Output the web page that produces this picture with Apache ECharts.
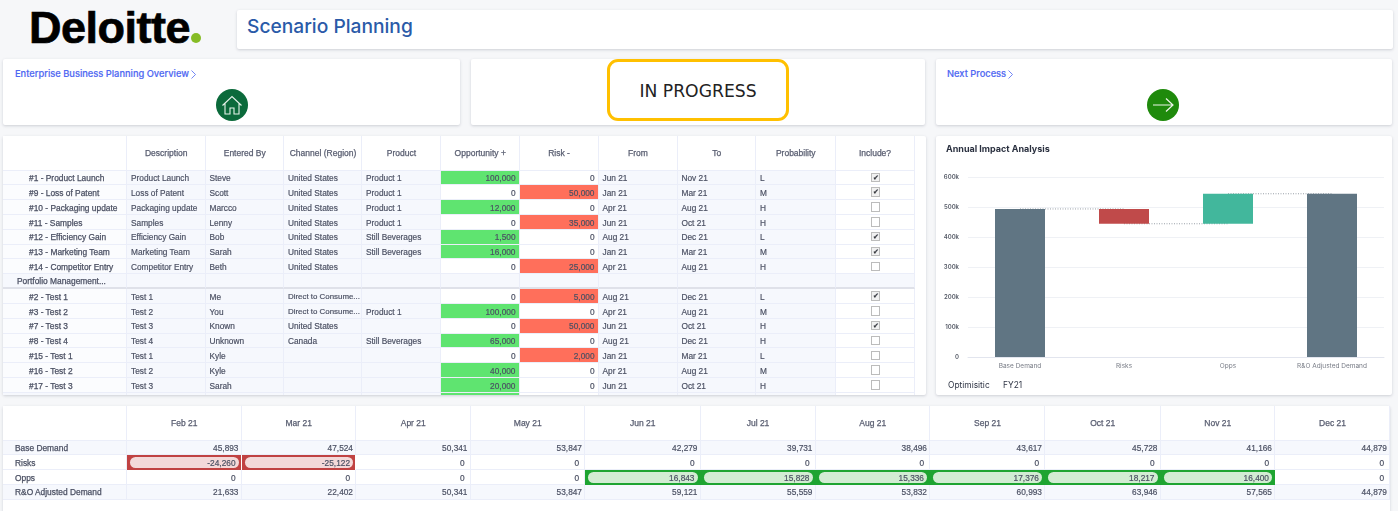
<!DOCTYPE html>
<html>
<head>
<meta charset="utf-8">
<title>Scenario Planning</title>
<script src="https://cdn.jsdelivr.net/npm/echarts@6/dist/echarts.min.js"></script>
<style>
    html, body { margin: 0; padding: 0; width: 1398px; height: 511px; overflow: hidden; background: #f6f7f9; }
    body { position: relative; font-family: "Liberation Sans", Arial, sans-serif; }
    .abs { position: absolute; box-sizing: border-box; white-space: nowrap; overflow: hidden; }
    .panel { position: absolute; box-sizing: border-box; background: #fff; border-radius: 2px; box-shadow: 0 1px 3px rgba(60, 70, 90, 0.22); }
    #tables { position: absolute; left: 0; top: 0; width: 1398px; height: 511px; will-change: transform; }
    .cell { font-size: 8.3px; color: #4b5063; border-right: 1px solid #ebeef9; border-bottom: 1px solid #ebeef9; padding: 1.5px 3px 0 4px; display: flex; align-items: center; -webkit-text-stroke: 0.18px #4b5063; }
    .head { padding-top: 0; font-size: 8.5px; color: #585d70; -webkit-text-stroke: 0.25px #585d70; }
    .rowname { font-size: 8.4px; -webkit-text-stroke: 0.25px #4b5063; }
    .link { position: absolute; font: 500 9.3px Inter, sans-serif; color: #4f68f2; -webkit-text-stroke: 0.15px #4f68f2; }
    .link svg { vertical-align: -1.5px; margin-left: 2px; }
    .pill { position: absolute; left: 3px; right: 2px; top: 2px; bottom: 2px; border-radius: 6px; display: flex; align-items: center; justify-content: flex-end; padding-right: 3px; padding-top: 1px; box-sizing: border-box; }
    .check { width: 9.5px; height: 9.5px; border: 1.3px solid #bcbcbc; background: #fff; box-sizing: border-box; margin: -1.5px 0 0 1px; font-size: 6.5px; line-height: 7px; text-align: center; color: #333; }
</style>
</head>
<body>
<div class="abs" style="left:29px;top:2px;height:50px;font:bold 45px 'Liberation Sans';letter-spacing:-0.5px;color:#000;-webkit-text-stroke:0.7px #000;">Deloitte</div>
<div class="abs" style="left:191px;top:33px;width:10px;height:10px;border-radius:50%;background:#86bc25;"></div>

<div class="panel" style="left:237px;top:10px;width:1156px;height:39px;"></div>
<div class="abs" style="left:247px;top:14px;font:500 19.2px Inter,sans-serif;color:#2a5aa8;">Scenario Planning</div>

<div class="panel" style="left:3px;top:59px;width:457px;height:66px;"></div>
<div class="panel" style="left:471px;top:59px;width:454px;height:66px;"></div>
<div class="panel" style="left:936px;top:59px;width:456px;height:66px;"></div>

<div class="link" style="left:15px;top:68px;">Enterprise Business Planning Overview<svg width="5" height="9" viewBox="0 0 5 9"><path d="M0.5 0.5 L4.5 4.5 L0.5 8.5" fill="none" stroke="#4f68f2" stroke-width="0.8"/></svg></div>
<div class="link" style="left:947px;top:68px;">Next Process<svg width="5" height="9" viewBox="0 0 5 9"><path d="M0.5 0.5 L4.5 4.5 L0.5 8.5" fill="none" stroke="#4f68f2" stroke-width="0.8"/></svg></div>

<svg class="abs" style="left:216px;top:89px;" width="32" height="32" viewBox="0 0 32 32">
    <circle cx="16" cy="16" r="16" fill="#0b6a3b"/>
    <path d="M6.5 16.5 L16 7.5 L25.5 16.5 M9 14.5 V25 H14 V19 H18 V25 H23 V14.5" fill="none" stroke="#e6f2ea" stroke-width="1.1"/>
</svg>
<svg class="abs" style="left:1147px;top:89px;" width="32" height="32" viewBox="0 0 32 32">
    <circle cx="16" cy="16" r="16" fill="#1f8a0c"/>
    <path d="M6 16 H26 M19 9.5 L26 16 L19 22.5" fill="none" stroke="#eef6ea" stroke-width="1.2"/>
</svg>

<div class="abs" style="left:607px;top:59px;width:182px;height:62px;border:3.5px solid #ffc000;border-radius:11px;background:#fff;display:flex;align-items:center;justify-content:center;padding-top:2px;font:17.2px 'DejaVu Sans',sans-serif;color:#222;">IN PROGRESS</div>

<div class="panel" style="left:3px;top:136px;width:923px;height:259px;" id="scenarioPanel"></div>
<div class="panel" style="left:936px;top:136px;width:456px;height:259px;"></div>
<div id="impactChart" class="abs" style="left:936px;top:136px;width:456px;height:259px;"></div>
<div class="panel" style="left:3px;top:406px;width:1387px;height:110px;" id="monthlyPanel"></div>
<div id="tables"></div>

<script>
    // Scenario table
    const scenarioHeaders = ['', 'Description', 'Entered By', 'Channel (Region)', 'Product', 'Opportunity +', 'Risk -', 'From', 'To', 'Probability', 'Include?'];
    const scenarioNames = ['#1 - Product Launch', '#9 - Loss of Patent', '#10 - Packaging update', '#11 - Samples', '#12 - Efficiency Gain', '#13 - Marketing Team', '#14 - Competitor Entry', 'Portfolio Management...', '#2 - Test 1', '#3 - Test 2', '#7 - Test 3', '#8 - Test 4', '#15 - Test 1', '#16 - Test 2', '#17 - Test 3'];
    const scenarioDescriptions = ['Product Launch', 'Loss of Patent', 'Packaging update', 'Samples', 'Efficiency Gain', 'Marketing Team', 'Competitor Entry', '', 'Test 1', 'Test 2', 'Test 3', 'Test 4', 'Test 1', 'Test 2', 'Test 3'];
    const scenarioEnteredBy = ['Steve', 'Scott', 'Marcco', 'Lenny', 'Bob', 'Sarah', 'Beth', '', 'Me', 'You', 'Known', 'Unknown', 'Kyle', 'Kyle', 'Sarah'];
    const scenarioChannels = ['United States', 'United States', 'United States', 'United States', 'United States', 'United States', 'United States', '', 'Direct to Consume...', 'Direct to Consume...', 'United States', 'Canada', '', '', ''];
    const scenarioProducts = ['Product 1', 'Product 1', 'Product 1', 'Product 1', 'Still Beverages', 'Still Beverages', '', '', '', 'Product 1', '', 'Still Beverages', '', '', ''];
    const scenarioOpps = [100000, 0, 12000, 0, 1500, 16000, 0, null, 0, 100000, 0, 65000, 0, 40000, 20000];
    const scenarioRisks = [0, 50000, 0, 35000, 0, 0, 25000, null, 5000, 0, 50000, 0, 2000, 0, 0];
    const scenarioFrom = ['Jun 21', 'Jan 21', 'Apr 21', 'Jun 21', 'Aug 21', 'Jan 21', 'Apr 21', '', 'Aug 21', 'Apr 21', 'Jun 21', 'Aug 21', 'Jan 21', 'Apr 21', 'Jun 21'];
    const scenarioTo = ['Nov 21', 'Mar 21', 'Aug 21', 'Oct 21', 'Dec 21', 'Mar 21', 'Aug 21', '', 'Dec 21', 'Aug 21', 'Oct 21', 'Dec 21', 'Mar 21', 'Aug 21', 'Oct 21'];
    const scenarioProbability = ['L', 'M', 'H', 'H', 'L', 'M', 'H', '', 'L', 'M', 'H', 'H', 'L', 'M', 'H'];
    const scenarioInclude = [1, 1, 0, 0, 1, 1, 0, null, 1, 0, 1, 0, 0, 0, 0];
    const scenarioColumns = [3, 127, 205.5, 284, 362, 441, 519.5, 598.5, 677.5, 756, 835.5, 914.5];

    // Monthly table
    const months = ['Feb 21', 'Mar 21', 'Apr 21', 'May 21', 'Jun 21', 'Jul 21', 'Aug 21', 'Sep 21', 'Oct 21', 'Nov 21', 'Dec 21'];
    const monthlyLabels = ['Base Demand', 'Risks', 'Opps', 'R&O Adjusted Demand'];
    const monthlyBase = [45893, 47524, 50341, 53847, 42279, 39731, 38496, 43617, 45728, 41166, 44879];
    const monthlyRisks = [-24260, -25122, 0, 0, 0, 0, 0, 0, 0, 0, 0];
    const monthlyOpps = [0, 0, 0, 0, 16843, 15828, 15336, 17376, 18217, 16400, 0];
    const monthlyAdjusted = [21633, 22402, 50341, 53847, 59121, 55559, 53832, 60993, 63946, 57565, 44879];

    // Annual waterfall
    const impactCategories = ['Base Demand', 'Risks', 'Opps', 'R&O Adjusted Demand'];
    const impactOffset = [0, 444119, 444119, 0];
    const impactValues = [493501, 49382, 100000, 544119];
    const impactColors = ['#607583', '#c04a4a', '#42b79c', '#607583'];
    const connectorBaseRisks = [493501, 493501, null, null];
    const connectorRisksOpps = [null, 444119, 444119, null];
    const connectorOppsAdjusted = [null, null, 544119, 544119];
    const impactTicks = { min: 0, max: 600000, interval: 100000 };

    const CELL_LIGHT = '#f6f8fd';
    const tablesEl = document.getElementById('tables');

    function fmt(v) {
        return v.toLocaleString('en-US');
    }

    function addCell(x0, x1, y0, y1, text, opts) {
        opts = opts || {};
        const el = document.createElement('div');
        el.className = 'abs cell' + (opts.cls ? ' ' + opts.cls : '');
        el.style.left = x0 + 'px';
        el.style.top = y0 + 'px';
        el.style.width = (x1 - x0) + 'px';
        el.style.height = (y1 - y0) + 'px';
        el.style.background = opts.bg || '#fff';
        el.style.justifyContent = opts.align || 'flex-start';
        if (opts.pad !== undefined) el.style.paddingLeft = opts.pad + 'px';
        if (opts.padRight !== undefined) el.style.paddingRight = opts.padRight + 'px';
        if (opts.borderBottom) el.style.borderBottom = opts.borderBottom;
        // 长文本缩小一点，避免被单元格裁掉
        if (text.length > 16 && opts.padRight === 0) el.style.fontSize = '7.9px';
        el.textContent = text;
        tablesEl.appendChild(el);
        return el;
    }

    // 表格一
    function drawScenarioTable() {
        const HEAD_TOP = 136, HEAD_BOTTOM = 170.5, ROW_H = 14.83;
        const cols = scenarioColumns;
        scenarioHeaders.forEach((h, c) => {
            addCell(cols[c], cols[c + 1], HEAD_TOP, HEAD_BOTTOM, h, { align: 'center', cls: 'head' });
        });
        scenarioNames.forEach((name, r) => {
            const y0 = HEAD_BOTTOM + r * ROW_H;
            const y1 = y0 + ROW_H;
            const isGroup = scenarioOpps[r] === null;
            const line = isGroup ? '2px solid #dfe1e9' : undefined;
            const base = { borderBottom: line };
            addCell(cols[0], cols[1], y0, y1, name, { bg: isGroup ? CELL_LIGHT : '#fbfcfe', pad: isGroup ? 14 : 26, cls: 'rowname', borderBottom: line });
            [scenarioDescriptions, scenarioEnteredBy, scenarioChannels, scenarioProducts].forEach((arr, i) => {
                addCell(cols[i + 1], cols[i + 2], y0, y1, arr[r], Object.assign({ bg: CELL_LIGHT, padRight: 0 }, base));
            });
            if (isGroup) {
                for (let c = 5; c <= 6; c++) addCell(cols[c], cols[c + 1], y0, y1, '', { bg: CELL_LIGHT, borderBottom: line });
            } else {
                addCell(cols[5], cols[6], y0, y1, fmt(scenarioOpps[r]), { align: 'flex-end', bg: scenarioOpps[r] > 0 ? '#5fe470' : '#fff' });
                addCell(cols[6], cols[7], y0, y1, fmt(scenarioRisks[r]), { align: 'flex-end', bg: scenarioRisks[r] > 0 ? '#ff6f5b' : '#fff' });
            }
            [scenarioFrom, scenarioTo, scenarioProbability].forEach((arr, i) => {
                addCell(cols[i + 7], cols[i + 8], y0, y1, arr[r], Object.assign({ bg: CELL_LIGHT }, base));
            });
            const inc = addCell(cols[10], cols[11], y0, y1, '', { bg: isGroup ? CELL_LIGHT : '#fff', align: 'center', borderBottom: line });
            if (!isGroup) {
                const box = document.createElement('div');
                box.className = 'check';
                box.textContent = scenarioInclude[r] ? '✔' : '';
                if (scenarioInclude[r]) box.style.background = '#f1f1f1';
                inc.appendChild(box);
            }
        });
        // 底部露出的半行
        const yEnd = HEAD_BOTTOM + scenarioNames.length * ROW_H;
        for (let c = 0; c < 11; c++) {
            addCell(cols[c], cols[c + 1], yEnd, 395, '', { bg: c === 5 ? '#5fe470' : (c === 6 || c === 10 ? '#fff' : CELL_LIGHT), borderBottom: 'none' });
        }
    }

    // 表格二
    function drawMonthlyTable() {
        const xs = [3, 127, 241.5, 356, 470.5, 585, 700.5, 815.5, 930, 1045, 1160.5, 1275, 1390];
        const HEAD_TOP = 406, HEAD_BOTTOM = 440.5, ROW_H = 14.75;
        const rows = [monthlyBase, monthlyRisks, monthlyOpps, monthlyAdjusted];
        addCell(xs[0], xs[1], HEAD_TOP, HEAD_BOTTOM, '', { cls: 'head' });
        months.forEach((m, c) => {
            addCell(xs[c + 1], xs[c + 2], HEAD_TOP, HEAD_BOTTOM, m, { align: 'center', cls: 'head' });
        });
        monthlyLabels.forEach((label, r) => {
            const y0 = HEAD_BOTTOM + r * ROW_H;
            const y1 = y0 + ROW_H;
            const rowBg = (r === 0 || r === 3) ? CELL_LIGHT : '#fff';
            addCell(xs[0], xs[1], y0, y1, label, { bg: rowBg, pad: 12, cls: 'rowname' });
            rows[r].forEach((v, c) => {
                const isRisk = r === 1 && v !== 0;
                const isOpp = r === 2 && v !== 0;
                if (isRisk || isOpp) {
                    const cell = addCell(xs[c + 1], xs[c + 2], y0, y1, '', { bg: isRisk ? '#c04242' : '#1ea431', borderBottom: 'none' });
                    cell.style.borderRight = '1px solid ' + (isRisk ? '#fff' : '#1ea431');
                    const pill = document.createElement('div');
                    pill.className = 'pill';
                    pill.style.background = isRisk ? '#f3d9d9' : '#d2ecd3';
                    pill.textContent = fmt(v);
                    cell.appendChild(pill);
                } else {
                    addCell(xs[c + 1], xs[c + 2], y0, y1, fmt(v), { bg: rowBg, align: 'flex-end', padRight: (r === 1 || r === 2) ? 5 : 2 });
                }
            });
        });
    }

    // 瀑布图
    function initImpactChart() {
        const chart = echarts.init(document.getElementById('impactChart'), null, { renderer: 'canvas' });
        const connector = data => ({
            type: 'line',
            data: data,
            symbol: 'none',
            z: 1,
            silent: true,
            lineStyle: { width: 1, type: [1, 1.5], color: '#9aa0a8' }
        });
        chart.setOption({
            animation: false,
            title: {
                text: 'Annual Impact Analysis',
                left: 5,
                top: 4,
                textStyle: { fontFamily: 'Inter', fontSize: 9, fontWeight: 700, color: '#2b3140' }
            },
            grid: { left: 32, right: 8, top: 41, bottom: 38 },
            xAxis: {
                type: 'category',
                data: impactCategories,
                axisTick: { show: false },
                axisLine: { lineStyle: { color: '#e2e5ee', width: 1 } },
                axisLabel: { fontFamily: 'Inter', fontSize: 6.5, color: '#777b85', margin: 6 }
            },
            yAxis: {
                type: 'value',
                min: impactTicks.min,
                max: impactTicks.max,
                interval: impactTicks.interval,
                axisLine: { show: false },
                axisTick: { show: false },
                splitLine: { lineStyle: { color: '#eff1f5', width: 1 } },
                axisLabel: {
                    fontFamily: 'Inter',
                    fontSize: 6,
                    fontWeight: 600,
                    color: '#555a66',
                    margin: 9,
                    padding: [3, 0, 0, 0],
                    formatter: value => value === 0 ? '0' : (value / 1000) + 'k'
                }
            },
            series: [
                connector(connectorBaseRisks),
                connector(connectorRisksOpps),
                connector(connectorOppsAdjusted),
                {
                    type: 'bar',
                    stack: 'impact',
                    barWidth: 50,
                    z: 2,
                    itemStyle: { color: 'transparent' },
                    data: impactOffset
                },
                {
                    type: 'bar',
                    stack: 'impact',
                    barWidth: 50,
                    z: 2,
                    itemStyle: { color: params => impactColors[params.dataIndex] },
                    data: impactValues
                }
            ],
            graphic: [
                { type: 'text', left: 12, top: 245, style: { text: 'Optimisitic', fontFamily: 'Inter', fontSize: 8.4, fill: '#2f3545' } },
                { type: 'text', left: 67, top: 245, style: { text: 'FY21', fontFamily: 'Inter', fontSize: 8.4, fill: '#2f3545' } }
            ]
        });
    }

    drawScenarioTable();
    drawMonthlyTable();
    initImpactChart();
</script>
</body>
</html>
